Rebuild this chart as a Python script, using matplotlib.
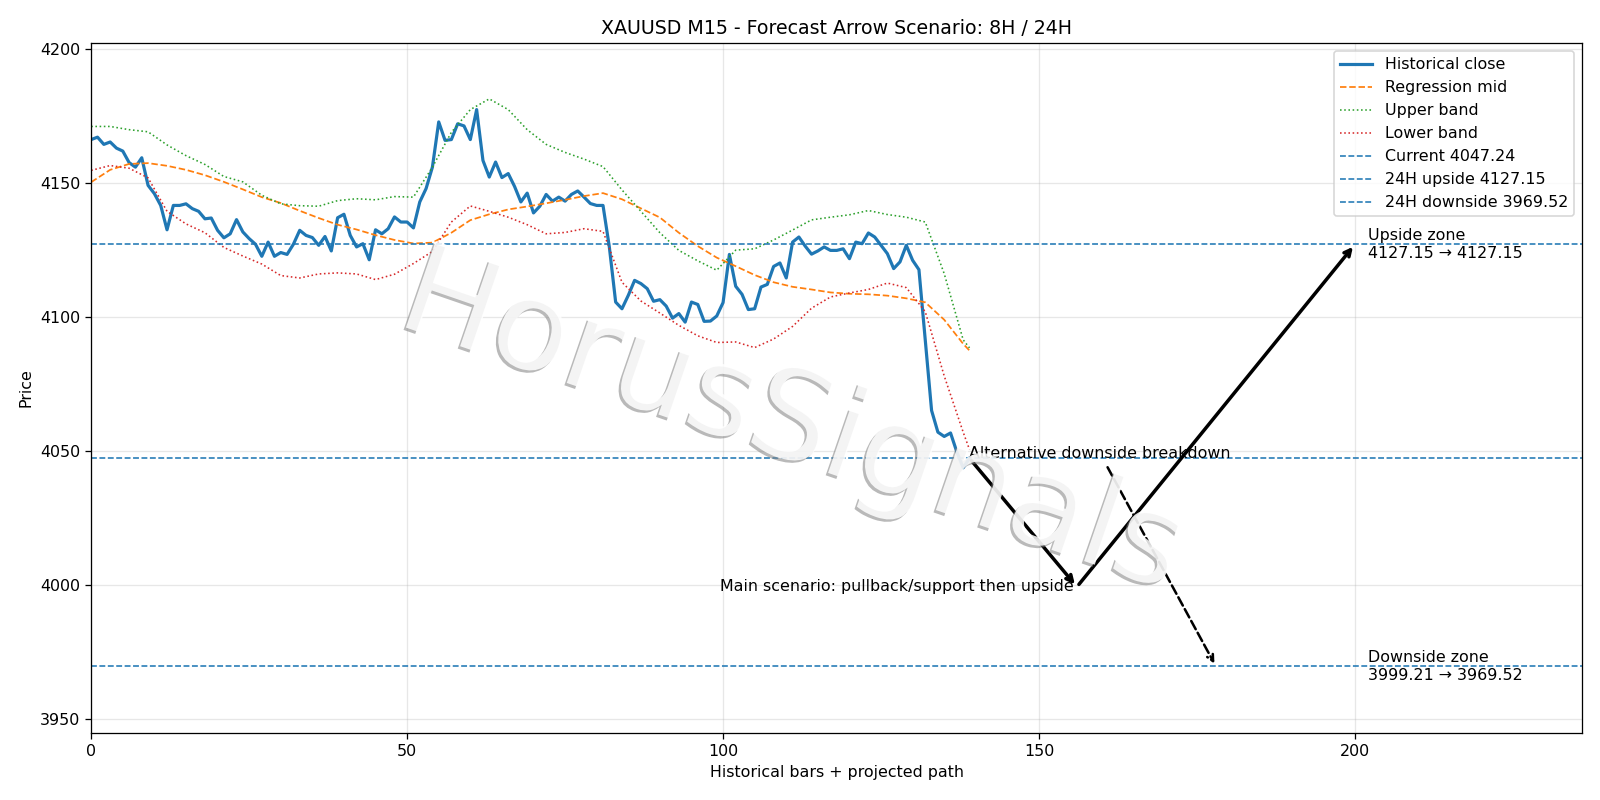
import matplotlib
matplotlib.use('Agg')
import matplotlib.pyplot as plt
import matplotlib.patheffects as pe

# ---- data ----
close = [
    4166.3, 4167.2, 4164.5, 4165.4, 4163.1, 4162.0, 4157.7, 4156.0, 4159.5, 4149.2,
    4146.1, 4141.7, 4132.6, 4141.7, 4141.7, 4142.3, 4140.5, 4139.5, 4136.7, 4137.0,
    4132.4, 4129.6, 4131.1, 4136.4, 4131.8, 4129.3, 4127.2, 4122.7, 4128.0, 4122.7,
    4124.1, 4123.4, 4127.2, 4132.4, 4130.5, 4129.7, 4126.8, 4130.1, 4124.7, 4137.1,
    4138.4, 4130.5, 4126.2, 4127.4, 4121.4, 4132.6, 4131.1, 4133.0, 4137.4, 4135.5,
    4135.5, 4133.3, 4143.0, 4148.0, 4156.0, 4172.9, 4166.0, 4166.3, 4172.2, 4171.4,
    4166.3, 4177.5, 4158.5, 4152.3, 4157.9, 4152.1, 4153.6, 4148.8, 4143.0, 4146.3,
    4138.9, 4141.4, 4145.8, 4143.3, 4144.8, 4143.3, 4145.8, 4147.1, 4144.8, 4142.4,
    4141.7, 4141.7, 4126.2, 4105.6, 4103.1, 4108.1, 4113.7, 4112.5, 4110.6, 4105.9,
    4106.5, 4104.1, 4099.6, 4101.3, 4098.1, 4105.6, 4104.7, 4098.4, 4098.5, 4100.4,
    4105.4, 4123.4, 4111.5, 4108.5, 4102.8, 4103.1, 4111.2, 4112.2, 4118.9, 4120.2,
    4114.6, 4128.0, 4129.9, 4126.5, 4123.5, 4124.7, 4126.2, 4124.9, 4124.9, 4125.5,
    4121.8, 4128.0, 4127.4, 4131.4, 4129.9, 4126.8, 4123.7, 4118.1, 4120.6, 4126.8,
    4121.2, 4117.7, 4091.3, 4065.1, 4057.0, 4055.4, 4056.7, 4049.6, 4043.7, 4047.24,
]

band_x = [0, 3, 6, 9, 12, 15, 18, 21, 24, 27, 30, 33, 36, 39, 42, 45, 48, 51, 54, 57,
          60, 63, 66, 69, 72, 75, 78, 81, 84, 87, 90, 93, 96, 99, 102, 105, 108, 111,
          114, 117, 120, 123, 126, 129, 132, 135, 138, 139]

mid = [4150.4, 4155.0, 4157.2, 4157.5, 4156.5, 4155.0, 4153.0, 4150.5, 4147.7, 4144.8,
       4142.6, 4139.7, 4137.0, 4134.5, 4132.7, 4130.6, 4128.8, 4127.5, 4127.8, 4131.5,
       4136.2, 4138.4, 4140.2, 4141.3, 4142.5, 4143.8, 4145.2, 4146.3, 4144.0, 4140.6,
       4137.2, 4131.5, 4126.5, 4122.2, 4119.0, 4115.7, 4113.0, 4111.3, 4110.3, 4109.2,
       4108.7, 4108.5, 4108.0, 4107.0, 4105.5, 4099.0, 4090.0, 4087.5]

upper = [4171.2, 4171.2, 4170.0, 4169.2, 4164.3, 4160.3, 4157.0, 4152.5, 4150.5, 4145.5,
         4142.3, 4141.6, 4141.4, 4143.5, 4144.2, 4143.8, 4145.0, 4144.8, 4156.0, 4169.0,
         4177.5, 4181.5, 4177.5, 4170.0, 4164.5, 4161.5, 4159.0, 4156.2, 4147.5, 4139.5,
         4131.5, 4124.9, 4121.0, 4117.5, 4125.0, 4125.5, 4128.8, 4132.5, 4136.3, 4137.3,
         4138.2, 4139.8, 4138.3, 4137.3, 4135.5, 4116.2, 4091.5, 4088.5]

lower = [4154.8, 4156.6, 4155.6, 4152.0, 4139.5, 4134.8, 4131.5, 4126.0, 4122.8, 4119.8,
         4115.5, 4114.6, 4116.1, 4116.5, 4116.1, 4114.0, 4116.0, 4120.0, 4124.5, 4135.5,
         4141.5, 4139.5, 4137.3, 4134.5, 4131.1, 4131.6, 4133.0, 4132.0, 4113.0, 4106.0,
         4101.5, 4096.9, 4093.0, 4090.5, 4090.7, 4088.6, 4091.8, 4096.5, 4103.3, 4107.5,
         4109.0, 4110.3, 4112.7, 4111.0, 4102.0, 4078.0, 4057.0, 4050.5]

current = 4047.24
up_24h = 4127.15
down_24h = 3969.52
target_8h = 3999.21

# projected path bar positions
x_now = 139
x_8h = 156
x_24h = 200
x_alt = 178
x_zone = 202

DPI = 800 / 7
fig, ax = plt.subplots(figsize=(14, 7), dpi=DPI)

ax.plot(range(len(close)), close, lw=2, label='Historical close')
ax.plot(band_x, mid, '--', lw=1.1, label='Regression mid')
ax.plot(band_x, upper, ':', lw=1.0, label='Upper band')
ax.plot(band_x, lower, ':', lw=1.0, label='Lower band')

ax.axhline(current, ls='--', lw=1, label=f'Current {current:.2f}')
ax.axhline(up_24h, ls='--', lw=1, label=f'24H upside {up_24h:.2f}')
ax.axhline(down_24h, ls='--', lw=1, label=f'24H downside {down_24h:.2f}')

# main scenario: pullback then upside
ax.annotate('', xy=(x_8h, target_8h), xytext=(x_now, current),
            arrowprops=dict(arrowstyle='->', lw=2.2, color='black'))
ax.annotate('', xy=(x_24h, up_24h), xytext=(x_8h, target_8h),
            arrowprops=dict(arrowstyle='->', lw=2.2, color='black'))
ax.text(x_8h - 0.5, target_8h, 'Main scenario: pullback/support then upside',
        ha='right', va='center')

# alternative path
ax.annotate('Alternative downside breakdown', xy=(x_alt, down_24h), xytext=(x_now, current),
            arrowprops=dict(arrowstyle='->', lw=1.6, color='black', linestyle='--'))

ax.text(x_zone, up_24h, f'Upside zone\n{up_24h:.2f} → {up_24h:.2f}',
        ha='left', va='center')
ax.text(x_zone, down_24h, f'Downside zone\n{target_8h:.2f} → {down_24h:.2f}',
        ha='left', va='center')

ax.set_xlim(0, 236)
ax.set_ylim(3944.7, 4202.3)
ax.set_title('XAUUSD M15 - Forecast Arrow Scenario: 8H / 24H')
ax.set_xlabel('Historical bars + projected path')
ax.set_ylabel('Price')
ax.grid(True, alpha=0.3)
ax.legend(loc='upper right')

# watermark
fig.text(0.495, 0.47, 'HorusSignals', fontsize=79, color='white', alpha=0.85,
         rotation=-19, ha='center', va='center',
         path_effects=[pe.withSimplePatchShadow(offset=(-1.5, -1.5), shadow_rgbFace='gray', alpha=0.55)])

plt.subplots_adjust(left=0.057, right=0.989, top=0.946, bottom=0.084)
fig.savefig('out.png', dpi=DPI)
